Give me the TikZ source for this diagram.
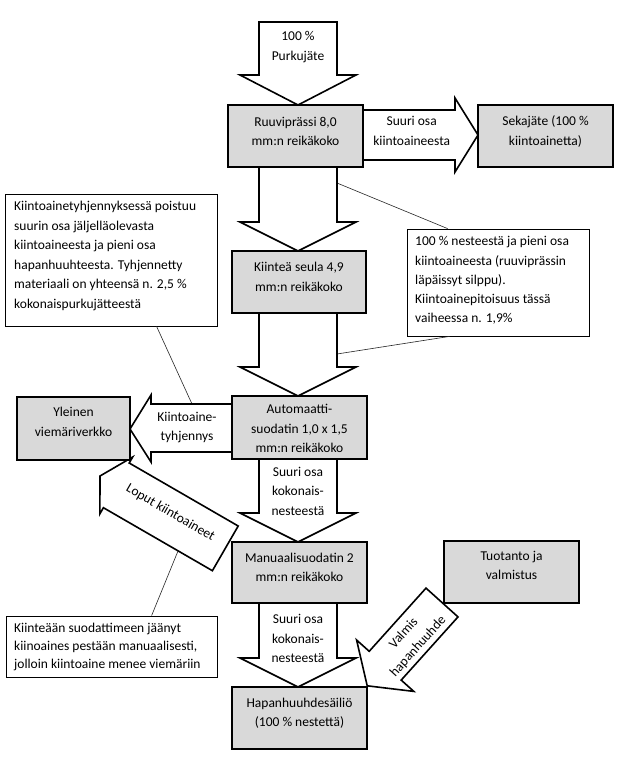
\documentclass[tikz,border=0pt]{standalone}
\usepackage{fontspec}
\setmainfont{Carlito}
\definecolor{boxgray}{RGB}{217,217,217}
\begin{document}
\begin{tikzpicture}[x=1pt,y=-1pt,
  box/.style={draw=black, line width=1.6pt, fill=boxgray, inner sep=0pt},
  bigarrow/.style={draw=black, line width=1.6pt, fill=white, line join=miter},
  callout/.style={draw=black, line width=0.8pt, fill=white, inner sep=0pt},
  txt/.style={font=\fontsize{13.5}{19.5}\selectfont, align=center, inner sep=0pt},
  ltxt/.style={font=\fontsize{13.5}{19.5}\selectfont, align=left, inner sep=0pt, anchor=west},
  link/.style={draw=black!85, line width=0.6pt}]
\fill[white] (0,0) rectangle (623,761);
\useasboundingbox (0,0) rectangle (623,761);

% callout boxes
\node[callout, minimum width=212pt, minimum height=132pt] (co1) at (111,260) {};
\node[callout, minimum width=182pt, minimum height=107pt] (co2) at (498,282.5) {};
\node[callout, minimum width=211pt, minimum height=61pt] (co3) at (111.5,646.5) {};

% connector end points on the arrows
\coordinate (l1end) at (192,404);
\coordinate (l2aend) at (337,183);
\coordinate (l2bend) at (337,354);
\coordinate (l3end) at (178,551);

\draw[link] ([xshift=152pt]co1.south west) -- (l1end);
\draw[link] ([xshift=41pt]co2.north west) -- (l2aend);
\draw[link] ([xshift=43pt]co2.south west) -- (l2bend);
\draw[link] ([xshift=146pt]co3.north west) -- (l3end);

% big block arrows
\draw[bigarrow] (259,22) -- (337,22) -- (337,75) -- (356,75) -- (298,105) -- (240,75) -- (259,75) -- cycle;
\draw[bigarrow] (259,167) -- (337,167) -- (337,222) -- (356,222) -- (298,251) -- (240,222) -- (259,222) -- cycle;
\draw[bigarrow] (259,313) -- (337,313) -- (337,367) -- (356,367) -- (298,396) -- (240,367) -- (259,367) -- cycle;
\draw[bigarrow] (259,459) -- (337,459) -- (337,513) -- (356,513) -- (298,542) -- (240,513) -- (259,513) -- cycle;
\draw[bigarrow] (259,603) -- (337,603) -- (337,658) -- (356,658) -- (298,687) -- (240,658) -- (259,658) -- cycle;
\draw[bigarrow] (363,110) -- (455,110) -- (455,98) -- (478,135) -- (455,172) -- (455,160) -- (363,160) -- cycle;
\draw[bigarrow] (232,404) -- (151,404) -- (151,395) -- (130,429) -- (151,462) -- (151,452) -- (232,452) -- cycle;
\draw[bigarrow] (426.0,588.1) -- (458.0,616.9) -- (401.2,680.1) -- (413.8,691.4) -- (367.2,685.8) -- (356.6,640.0) -- (369.2,651.3) -- cycle;
\draw[bigarrow] (238.2,526.0) -- (212.4,570.7) -- (103.4,507.7) -- (99.9,513.8) -- (100.0,476.0) -- (132.7,457.0) -- (129.2,463.0) -- cycle;

% process boxes
\node[box, minimum width=135pt, minimum height=62pt] (ruuvi) at (295.5,136) {};
\node[box, minimum width=135pt, minimum height=62pt] (seka) at (545.5,136) {};
\node[box, minimum width=134pt, minimum height=62pt] (kiintea) at (299,282) {};
\node[box, minimum width=135pt, minimum height=63pt] (auto) at (299.5,427.5) {};
\node[box, minimum width=113pt, minimum height=63pt] (yleinen) at (73.5,428.5) {};
\node[box, minimum width=135pt, minimum height=61pt] (manuaali) at (299.5,572.5) {};
\node[box, minimum width=135pt, minimum height=62pt] (hapan) at (299.5,718) {};
\node[box, minimum width=135pt, minimum height=62pt] (tuotanto) at (511.5,572) {};

% texts
\node[txt] (t0) at (298,47) {100 \%\\Purkujäte};
\node[txt] (t1) at (295.5,131.5) {Ruuviprässi 8,0\\mm:n reikäkoko};
\node[txt] (t2) at (545.5,131.5) {Sekajäte (100 \%\\kiintoainetta)};
\node[txt] (t3) at (411.7,131) {Suuri osa\\kiintoaineesta};
\node[txt] (t4) at (299,277) {Kiinteä seula 4,9\\mm:n reikäkoko};
\node[txt] (t5) at (299.5,428.5) {Automaatti-\\suodatin 1,0 x 1,5\\mm:n reikäkoko};
\node[txt] (t6) at (73.5,422) {Yleinen\\viemäriverkko};
\node[txt] (t7) at (187,427.5) {Kiintoaine-\\tyhjennys};
\node[txt] (t8) at (298,491) {Suuri osa\\kokonais-\\nesteestä};
\node[txt] (t9) at (299.5,567.5) {Manuaalisuodatin 2\\mm:n reikäkoko};
\node[txt] (t10) at (298,638.5) {Suuri osa\\kokonais-\\nesteestä};
\node[txt] (t11) at (299.5,713) {Hapanhuuhdesäiliö\\(100 \% nestettä)};
\node[txt] (t12) at (511.5,565.5) {Tuotanto ja\\valmistus};
\node[txt, rotate=48] (t13) at (411,640) {Valmis\\hapanhuuhde};
\node[txt, rotate=-30.2] (t14) at (170.4,512.9) {Loput kiintoaineet};

\node[ltxt, font=\fontsize{13.5}{19.6}\selectfont] (c1) at (14,256) {Kiintoainetyhjennyksessä poistuu\\suurin osa jäljelläolevasta\\kiintoaineesta ja pieni osa\\hapanhuuhteesta. Tyhjennetty\\materiaali on yhteensä n. 2,5 \%\\kokonaispurkujätteestä};
\node[ltxt, font=\fontsize{13.5}{19.25}\selectfont] (c2) at (415,280.5) {100 \% nesteestä ja pieni osa\\kiintoaineesta (ruuviprässin\\läpäissyt silppu).\\Kiintoainepitoisuus tässä\\vaiheessa n. 1,9\%};
\node[ltxt, font=\fontsize{13.5}{18}\selectfont] (c3) at (14,647) {Kiinteään suodattimeen jäänyt\\kiinoaines pestään manuaalisesti,\\jolloin kiintoaine menee viemäriin};
\end{tikzpicture}
\end{document}
